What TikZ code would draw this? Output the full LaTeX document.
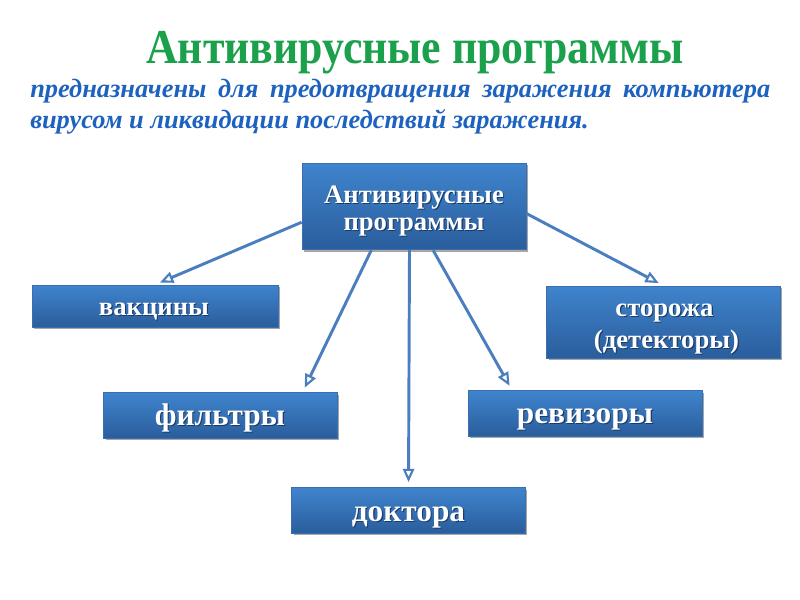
\documentclass[tikz,border=0pt]{standalone}
\usepackage{fontspec}
\setmainfont{Liberation Serif}
\usetikzlibrary{arrows.meta,shadows,calc}
\definecolor{boxtop}{HTML}{3F84CD}
\definecolor{boxbot}{HTML}{2A5D9C}
\definecolor{boxline}{HTML}{3A6EAE}
\definecolor{arrowc}{HTML}{4A7EBE}
\definecolor{titlegreen}{HTML}{1BA14B}
\definecolor{subblue}{HTML}{1E62C0}
\definecolor{shadowc}{HTML}{1B3B66}
\newcommand\shtxt[1]{\makebox[0pt][l]{\hspace{0.8pt}\raisebox{-0.8pt}{\textcolor{shadowc}{#1}}}#1}
\begin{document}
\begin{tikzpicture}[x=0.75pt,y=-0.75pt,
  box/.style={draw=boxline,line width=0.6pt,top color=boxtop,bottom color=boxbot,inner sep=0pt,
    drop shadow={shadow xshift=1.5pt,shadow yshift=-1.5pt,opacity=0.35,fill=black}},
  lbl/.style={text=white,anchor=base,inner sep=0pt,font=\bfseries\fontsize{20}{24}\selectfont},
  lblbig/.style={lbl,font=\bfseries\fontsize{23.5}{28}\selectfont},
  conn/.style={draw=arrowc,line width=2.2pt,shorten >=4pt,
    -{Triangle[open,length=10pt,width=8.5pt,fill=white,line width=1.6pt]}}]
\useasboundingbox[fill=white] (0,0) rectangle (800,600);
\node[text=titlegreen,font=\bfseries\fontsize{36.5}{40}\selectfont,anchor=base,inner sep=0pt] (title) at (415,63) {\scalebox{0.9}[1]{Антивирусные программы}};
\node[text=subblue,font=\bfseries\itshape\fontsize{19.8}{23}\selectfont,anchor=base west,inner sep=0pt] (sub1) at (30,97)
  {\makebox[555pt][s]{предназначены для предотвращения заражения компьютера}};
\node[text=subblue,font=\bfseries\itshape\fontsize{19.8}{23}\selectfont,anchor=base west,inner sep=0pt] (sub2) at (30,128)
  {вирусом и ликвидации последствий заражения.};
% boxes
\node[box,minimum width=168pt,minimum height=65pt] (root) at (414,206.5) {};
\node[box,minimum width=184.5pt,minimum height=31.5pt] (vak) at (155,306) {};
\node[box,minimum width=175pt,minimum height=54pt] (stor) at (663.5,322) {};
\node[box,minimum width=175pt,minimum height=34pt] (filt) at (220.5,415.5) {};
\node[box,minimum width=175.5pt,minimum height=34pt] (rev) at (585,413.5) {};
\node[box,minimum width=175pt,minimum height=34pt] (doc) at (408.5,510.5) {};
% labels
\node[lbl] (rootA) at (414,203) {\shtxt{Антивирусные}};
\node[lbl] (rootB) at (414,230) {\shtxt{программы}};
\node[lbl] (vakL) at (154,315) {\shtxt{вакцины}};
\node[lbl] (storA) at (664.5,316) {\shtxt{сторожа}};
\node[lbl] (storB) at (666.5,348) {\shtxt{(детекторы)}};
\node[lblbig] (filtL) at (220,425) {\shtxt{фильтры}};
\node[lblbig] (revL) at (585,423) {\shtxt{ревизоры}};
\node[lblbig] (docL) at (408.5,521) {\shtxt{доктора}};
% connectors
\coordinate (s1) at ($(root.north west)!0.68!(root.south west)$);
\coordinate (s2) at ($(root.north east)!0.58!(root.south east)$);
\coordinate (s3) at ($(root.south west)!0.31!(root.south east)$);
\coordinate (s4) at ($(root.south west)!0.585!(root.south east)$);
\coordinate (s5) at ($(root.south west)!0.48!(root.south east)$);
\coordinate (e3) at ($(filt.north west)!0.85!(filt.north east)$);
\coordinate (e4) at ($(rev.north west)!0.19!(rev.north east)$);
\coordinate (e5) at ($(doc.north west)!0.50!(doc.north east)$);
\draw[conn] (s1) -- (vak.north);
\draw[conn] (s2) -- (stor.north);
\draw[conn] (s3) -- (e3);
\draw[conn] (s4) -- (e4);
\draw[conn] (s5) -- (e5);
\end{tikzpicture}
\end{document}
